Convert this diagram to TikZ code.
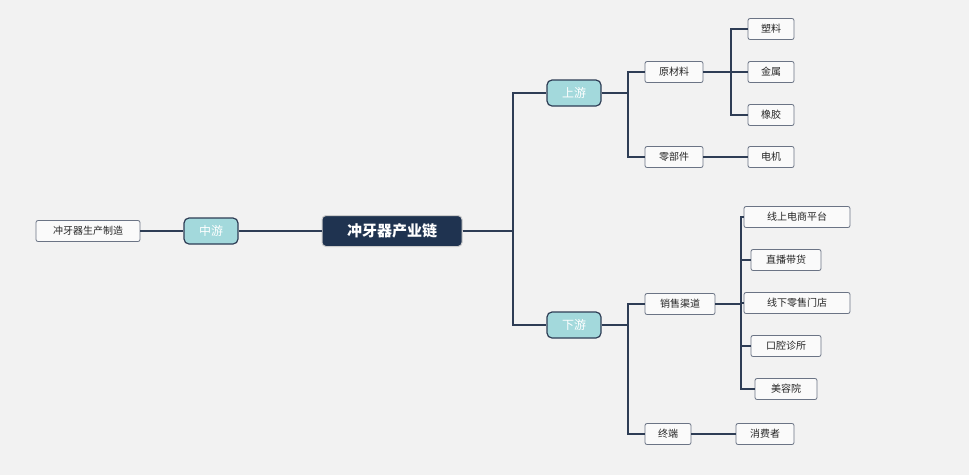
\documentclass[tikz,border=0pt]{standalone}
\usepackage{fontspec}
\setmainfont{Noto Sans CJK SC}
\usetikzlibrary{positioning}
\definecolor{navy}{HTML}{1F3350}
\definecolor{teal}{HTML}{A3D9DC}
\definecolor{bg}{HTML}{F2F2F2}
\definecolor{edge}{HTML}{2E3D55}
\definecolor{slate}{HTML}{6B7485}
\tikzset{
  root/.style={draw=gray!40, line width=1pt, fill=navy, text=white, font=\bfseries\fontsize{15}{15}\selectfont, rounded corners=4pt, minimum width=140pt, minimum height=31pt, inner sep=2pt},
  main/.style={draw=edge, line width=1.2pt, fill=teal, text=white, font=\fontsize{12}{12}\selectfont, rounded corners=5pt, minimum width=54pt, minimum height=26pt, inner sep=2pt},
  leaf/.style={draw=slate, line width=0.8pt, fill=white!60!bg, text=black!85, font=\fontsize{10}{10}\selectfont, rounded corners=2pt, minimum height=21pt, inner sep=3pt},
  link/.style={draw=edge, line width=1.2pt},
}
\begin{document}
\begin{tikzpicture}[x=1pt, y=-1pt]
	\fill[bg] (0,0) rectangle (969,475);
	\useasboundingbox (0,0) rectangle (969,475);
	% centre and branches
	\node[root] (chain) at (392,231) {冲牙器产业链};
	\node[main] (mid) at (211,231) {中游};
	\node[leaf, minimum width=104pt] (make) at (88,231) {冲牙器生产制造};
	\node[main] (up) at (574,93) {上游};
	\node[main] (down) at (574,325) {下游};
	% upstream
	\node[leaf, minimum width=58pt] (raw) at (674,72) {原材料};
	\node[leaf, minimum width=58pt] (part) at (674,157) {零部件};
	\node[leaf, minimum width=46pt] (plastic) at (771,29) {塑料};
	\node[leaf, minimum width=46pt] (metal) at (771,72) {金属};
	\node[leaf, minimum width=46pt] (rubber) at (771,115) {橡胶};
	\node[leaf, minimum width=46pt] (motor) at (771,157) {电机};
	% downstream
	\node[leaf, minimum width=70pt] (sales) at (680,304) {销售渠道};
	\node[leaf, minimum width=46pt] (term) at (668,434) {终端};
	\node[leaf, minimum width=106pt] (online) at (797,217) {线上电商平台};
	\node[leaf, minimum width=70pt] (live) at (786,260) {直播带货};
	\node[leaf, minimum width=106pt] (offline) at (797,303) {线下零售门店};
	\node[leaf, minimum width=70pt] (clinic) at (786,346) {口腔诊所};
	\node[leaf, minimum width=62pt] (beauty) at (786,389) {美容院};
	\node[leaf, minimum width=58pt] (user) at (765,434) {消费者};
	% connectors
	\draw[link] (chain) -- (mid);
	\draw[link] (mid) -- (make);
	\foreach \n in {up, down}
		\draw[link] (chain.east) -- (513,231) |- (\n.west);
	\foreach \n in {raw, part}
		\draw[link] (up.east) -- (628,93) |- (\n.west);
	\foreach \n in {plastic, metal, rubber}
		\draw[link] (raw.east) -- (731,72) |- (\n.west);
	\draw[link] (part) -- (motor);
	\foreach \n in {sales, term}
		\draw[link] (down.east) -- (628,325) |- (\n.west);
	\foreach \n in {online, live, offline, clinic, beauty}
		\draw[link] (sales.east) -- (741,304) |- (\n.west);
	\draw[link] (term) -- (user);
\end{tikzpicture}
\end{document}
